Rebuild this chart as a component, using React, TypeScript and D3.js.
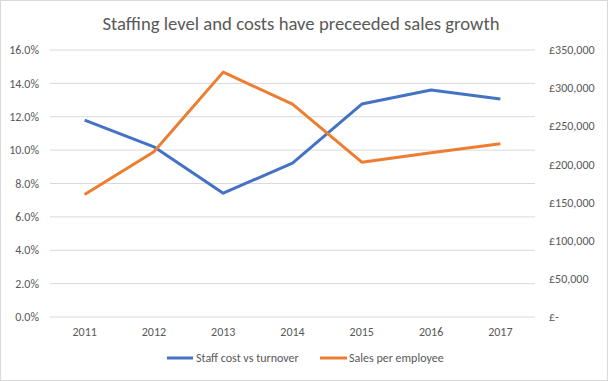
import React from "react";
import * as d3 from "d3";

const years = ["2011", "2012", "2013", "2014", "2015", "2016", "2017"];
const staffCost = [11.8, 10.2, 7.42, 9.22, 12.76, 13.6, 13.06];
const salesPerEmployee = [160500, 216500, 321000, 279000, 203000, 215200, 227000];
const leftTicks = [0, 2, 4, 6, 8, 10, 12, 14, 16];
const rightTicks = [0, 50000, 100000, 150000, 200000, 250000, 300000, 350000];
const title = "Staffing level and costs have preceeded sales growth";
const seriesNames = ["Staff cost vs turnover", "Sales per employee"];

const W = 608, H = 381;
const FONT = "Calibri, Carlito, Lato, 'Open Sans', sans-serif";
const TXT = "#595959";

export default function App() {
  const x = d3.scaleBand().domain(years).range([50, 535]);
  const yL = d3.scaleLinear().domain([0, 16]).range([317, 50]);
  const yR = d3.scaleLinear().domain([0, 350000]).range([317, 50]);
  const cx = (y: string) => (x(y) as number) + x.bandwidth() / 2;
  const lineL = d3.line<number>().x((_, i) => cx(years[i])).y((d) => yL(d));
  const lineR = d3.line<number>().x((_, i) => cx(years[i])).y((d) => yR(d));
  const fmtR = (v: number) => (v === 0 ? "£-" : "£" + d3.format(",")(v));

  return (
    <svg width={W} height={H} style={{ position: "fixed", left: 0, top: 0, background: "#fff" }} fontFamily={FONT}>
      <rect x={0.5} y={0.5} width={W - 1} height={H - 1} fill="#fff" stroke="#d9d9d9" />
      <text x={W / 2 - 3} y={30} textAnchor="middle" fontSize={18.7} fill={TXT}>{title}</text>
      {leftTicks.map((t) => (
        <line key={t} x1={50} x2={535} y1={yL(t)} y2={yL(t)} stroke="#d9d9d9" strokeWidth={1} />
      ))}
      {leftTicks.map((t) => (
        <text key={"l" + t} x={39} y={yL(t)} dy="0.35em" textAnchor="end" fontSize={12} fill={TXT}>
          {t.toFixed(1) + "%"}
        </text>
      ))}
      {rightTicks.map((t) => (
        <text key={"r" + t} x={549} y={yR(t)} dy="0.35em" textAnchor="start" fontSize={12} fill={TXT}>
          {fmtR(t)}
        </text>
      ))}
      {years.map((y) => (
        <text key={y} x={cx(y)} y={332} dy="0.35em" textAnchor="middle" fontSize={12} fill={TXT}>{y}</text>
      ))}
      <path d={lineL(staffCost) || ""} fill="none" stroke="#4472C4" strokeWidth={3} strokeLinejoin="round" />
      <path d={lineR(salesPerEmployee) || ""} fill="none" stroke="#ED7D31" strokeWidth={3} strokeLinejoin="round" />
      <line x1={167} x2={193} y1={358} y2={358} stroke="#4472C4" strokeWidth={3} />
      <text x={196} y={358} dy="0.35em" fontSize={12} fill={TXT}>{seriesNames[0]}</text>
      <line x1={320} x2={347} y1={358} y2={358} stroke="#ED7D31" strokeWidth={3} />
      <text x={349} y={358} dy="0.35em" fontSize={12} fill={TXT}>{seriesNames[1]}</text>
    </svg>
  );
}
